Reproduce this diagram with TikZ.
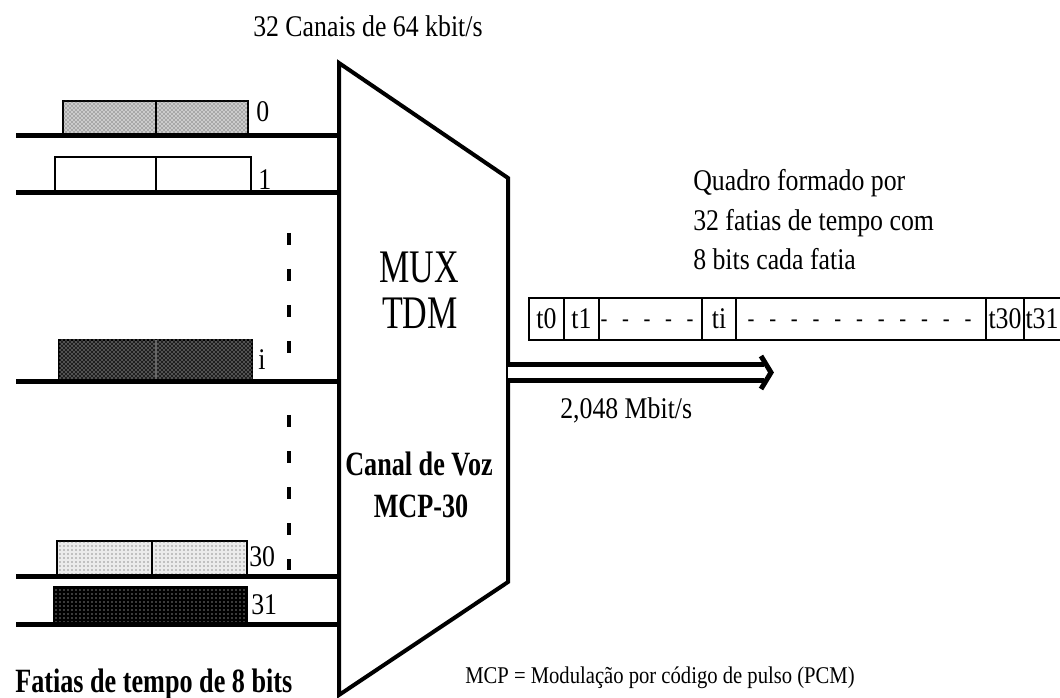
\documentclass[tikz,border=0pt]{standalone}
\usepackage{fontspec}
\setmainfont{Liberation Serif}
\newfontfamily\regf[FakeStretch=0.86]{Liberation Serif}
\newfontfamily\muxf[FakeStretch=0.73]{Liberation Serif}
\newfontfamily\bldf[FakeStretch=0.77]{Liberation Serif}
\usetikzlibrary{patterns}
\tikzset{
  chan/.style={line width=3.75pt},
  muxbox/.style={line width=3pt, line join=miter},
  slotbox/.style={draw, line width=1.1pt},
  slotsep/.style={line width=1.1pt},
  cellbox/.style={line width=1.5pt},
  txt/.style={inner sep=0pt, anchor=base west, font=\regf\fontsize{22.5}{27}\selectfont},
  smalltxt/.style={inner sep=0pt, anchor=base west, font=\regf\fontsize{18}{22}\selectfont},
  celltxt/.style={inner sep=0pt, anchor=base, font=\regf\fontsize{22.5}{27}\selectfont},
  dashtxt/.style={inner sep=0pt, anchor=base, font=\regf\fontsize{18}{22}\selectfont},
  muxtxt/.style={inner sep=0pt, anchor=base, font=\muxf\fontsize{35}{40}\selectfont},
  boldtxt/.style={inner sep=0pt, anchor=base, font=\bldf\bfseries\fontsize{25.5}{30}\selectfont},
  vdots/.style={line width=3pt, dash pattern=on 9pt off 18pt},
  outline/.style={line width=3.75pt, double distance=8.6pt},
  outtip/.style={line width=3.75pt, line join=miter},
  slotlight/.style={slotbox, fill=black!20, postaction={pattern=crosshatch dots, pattern color=black!80}},
  slotwhite/.style={slotbox, fill=white},
  slotdark/.style={slotbox, fill=black!88, postaction={pattern=crosshatch dots, pattern color=white}},
  slotpale/.style={slotbox, fill=black!8, postaction={pattern=dots, pattern color=black!80}},
  slotblack/.style={slotbox, fill=black, postaction={pattern=dots, pattern color=white}},
}
\begin{document}
\begin{tikzpicture}[x=0.75pt,y=-0.75pt]
\fill[white] (0,0) rectangle (1060,698);
\useasboundingbox (0,0) rectangle (1060,698);

% multiplexer
\coordinate (mTL) at (339,63);
\coordinate (mTR) at (508,178);
\coordinate (mBR) at (508,582);
\coordinate (mBL) at (339,695);
\draw[muxbox] (mTL) -- (mTR) -- (mBR) -- (mBL) -- cycle;

% time slots
\draw[slotlight] (63,101) rectangle (248,136);
\draw[slotsep] (156,101) -- (156,136);
\draw[slotwhite] (55,157) rectangle (251,193);
\draw[slotsep] (156,157) -- (156,193);
\draw[slotdark] (59,340) rectangle (252,382);
\draw[slotsep, white!40!black] (156,340) -- (156,382);
\draw[slotpale] (57,541) rectangle (247,576);
\draw[slotsep] (152,541) -- (152,576);
\draw[slotblack] (54,587) rectangle (247,624);

% channel lines
\coordinate (c0) at (16,136);
\coordinate (c1) at (16,193);
\coordinate (ci) at (16,382);
\coordinate (c30) at (16,576);
\coordinate (c31) at (16,624);
\draw[chan] (c0) -- (c0 -| mTL);
\draw[chan] (c1) -- (c1 -| mTL);
\draw[chan] (ci) -- (ci -| mTL);
\draw[chan] (c30) -- (c30 -| mTL);
\draw[chan] (c31) -- (c31 -| mTL);

% channel labels
\node[txt] (l0) at (256,122) {0};
\node[txt] (l1) at (258,190) {1};
\node[txt] (li) at (258,370) {i};
\node[txt] (l30) at (249,566) {30};
\node[txt] (l31) at (251,614) {31};

% vertical dots
\coordinate (d1a) at (289,233);
\coordinate (d1b) at (289,356);
\coordinate (d2a) at (289,415);
\coordinate (d2b) at (289,570);
\draw[vdots] (d1a) -- (d1b);
\draw[vdots] (d2a) -- (d2b);

% mux texts
\node[muxtxt] (mux) at (419,283) {MUX};
\node[muxtxt] (tdm) at (420,329) {TDM};
\node[boldtxt] (canal) at (419,475) {Canal de Voz};
\node[boldtxt] (mcp) at (421,517) {MCP-30};

% output
\coordinate (oS) at (508,372.5);
\coordinate (oE) at (764,372.5);
\coordinate (tipU) at (761,356);
\coordinate (tipP) at (771,372.5);
\coordinate (tipD) at (761,389);
\draw[outline] (oS) -- (oE);
\draw[outtip] (tipU) -- (tipP) -- (tipD);
\node[txt] (rate) at (560,419) {2,048 Mbit/s};

% frame
\draw[cellbox] (529,298) rectangle (1066,340);
\foreach \xx in {564,599,702,736,986,1024} \draw[cellbox] (\xx,298) -- (\xx,340);
\node[celltxt] (t0) at (546.5,329) {t0};
\node[celltxt] (t1) at (581.5,329) {t1};
\foreach \i in {0,...,4} \node[dashtxt] (dA\i) at (604+21.5*\i,327) {-};
\node[celltxt] (ti) at (719,329) {ti};
\foreach \i in {0,...,10} \node[dashtxt] (dB\i) at (751+21.7*\i,327) {-};
\node[celltxt] (t30) at (1005,329) {t30};
\node[celltxt] (t31) at (1042,329) {t31};

% texts
\node[txt] (top) at (253,37) {32 Canais de 64 kbit/s};
\node[txt] (q1) at (693,191) {Quadro formado por};
\node[txt] (q2) at (693,231) {32 fatias de tempo com};
\node[txt] (q3) at (693,270) {8 bits cada fatia};
\node[boldtxt, anchor=base west] (fat) at (15,692) {Fatias de tempo de 8 bits};
\node[smalltxt] (def) at (465,683) {MCP = Modulação por código de pulso (PCM)};
\end{tikzpicture}
\end{document}
